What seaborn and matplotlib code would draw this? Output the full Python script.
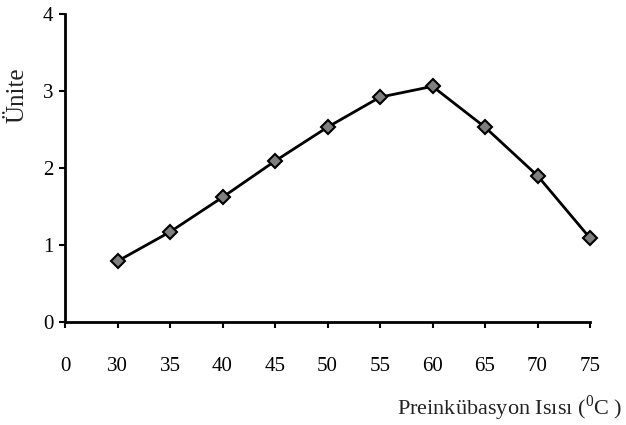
import matplotlib
matplotlib.use("Agg")
import matplotlib.pyplot as plt
import seaborn as sns
import pandas as pd

categories = ["0", "30", "35", "40", "45", "50", "55", "60", "65", "70", "75"]
temps = ["30", "35", "40", "45", "50", "55", "60", "65", "70", "75"]
units = [0.79, 1.17, 1.62, 2.09, 2.53, 2.92, 3.06, 2.53, 1.90, 1.09]

sns.set_theme(style="ticks")
plt.rcParams["font.family"] = ["Liberation Serif", "DejaVu Serif"]
plt.rcParams["mathtext.fontset"] = "custom"
plt.rcParams["mathtext.rm"] = "Liberation Serif"

pos = [categories.index(t) for t in temps]
df = pd.DataFrame({"pos": pos, "unit": units})

fig = plt.figure(figsize=(6.26, 4.25), dpi=100)
ax = fig.add_axes([65 / 626, (425 - 322) / 425, (590 - 65) / 626, (322 - 14) / 425])

sns.lineplot(data=df, x="pos", y="unit", ax=ax, color="black", linewidth=2,
             marker="D", markersize=7, markerfacecolor="#7f7f7f",
             markeredgecolor="black", markeredgewidth=1.5, clip_on=False)

ax.set_xlim(0, len(categories) - 1)
ax.set_ylim(0, 4)
ax.set_xticks(range(len(categories)))
ax.set_xticklabels(categories)
ax.set_yticks([0, 1, 2, 3, 4])
ax.tick_params(axis="x", direction="out", length=4.5, width=1.5, pad=21, labelsize=15, colors="black")
ax.tick_params(axis="y", direction="out", length=4.5, width=1.5, pad=4, labelsize=15, colors="black")
for s in ["top", "right"]:
    ax.spines[s].set_visible(False)
for s in ["left", "bottom"]:
    ax.spines[s].set_linewidth(2)
    ax.spines[s].set_color("black")

ax.set_xlabel("")
ax.set_ylabel("")
fig.text(622 / 626, (425 - 408) / 425, r"Preinkübasyon Isısı ($^{0}$C )", ha="right", va="center",
         fontsize=16, color="#222222")
fig.text(17 / 626, (425 - 95) / 425, "Ünite", rotation=90, ha="center", va="center",
         fontsize=18, color="#222222")

fig.savefig("out.png", dpi=100)
